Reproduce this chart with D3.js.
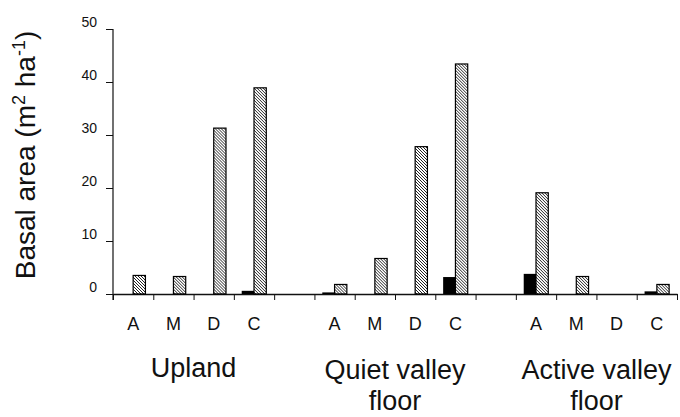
<!DOCTYPE html>
<html>
<head>
<meta charset="utf-8">
<script src="https://cdn.jsdelivr.net/npm/d3@7"></script>
<style>
  body { margin: 0; background: #fff; }
  text { font-family: "Liberation Sans", Arial, sans-serif; fill: #111; }
</style>
</head>
<body>
<div id="chart"></div>
<script>
// data
const siteLabels = [['Upland'], ['Quiet valley', 'floor'], ['Active valley', 'floor']];
const classes = ['A', 'M', 'D', 'C'];
const series = ['solid', 'hatched'];
const solidValues = [[0, 0, 0, 0.6], [0.3, 0, 0, 3.2], [3.8, 0, 0, 0.5]];
const hatchedValues = [[3.5, 3.3, 31.3, 38.9], [1.8, 6.7, 27.8, 43.4], [19.1, 3.3, 0, 1.8]];
const yTicks = [0, 10, 20, 30, 40, 50];

const width = 680, height = 417;
const margin = { top: 29, right: 3, bottom: 123, left: 113 };
const innerW = width - margin.left - margin.right;
const innerH = height - margin.top - margin.bottom;

// one slot per class, plus an empty slot between sites
const slotCount = siteLabels.length * (classes.length + 1) - 1;
const rows = [];
siteLabels.forEach((s, si) => {
    classes.forEach((c, ci) => {
        rows.push({ slot: si * (classes.length + 1) + ci, site: si, cls: c,
                    solid: solidValues[si][ci], hatched: hatchedValues[si][ci] });
    });
});

const svg = d3.select('#chart').append('svg')
    .attr('width', width)
    .attr('height', height);

const defs = svg.append('defs');
defs.append('pattern')
    .attr('id', 'hatch')
    .attr('patternUnits', 'userSpaceOnUse')
    .attr('width', 3)
    .attr('height', 3)
    .append('path')
    .attr('d', 'M-1,-1 L4,4 M-1,2 L1,4 M2,-1 L4,1')
    .attr('stroke', '#222')
    .attr('stroke-width', 1);

const g = svg.append('g')
    .attr('transform', `translate(${margin.left},${margin.top})`);

const x = d3.scaleBand()
    .domain(d3.range(slotCount))
    .range([0, innerW])
    .padding(0);

const x1 = d3.scaleBand()
    .domain(series)
    .range([x.bandwidth() * 0.195, x.bandwidth() * 0.805])
    .padding(0);

const y = d3.scaleLinear()
    .domain([0, 50])
    .range([innerH, 0]);

// Y axis
g.append('g')
    .call(d3.axisLeft(y).tickValues(yTicks).tickSize(7).tickSizeOuter(0).tickPadding(9))
    .call(ax => {
        ax.select('.domain').attr('d', `M0,0V${innerH + 6}`).attr('stroke', '#111').attr('stroke-width', 1.2);
        ax.selectAll('.tick line').attr('stroke', '#111');
        ax.selectAll('.tick text')
            .attr('dy', '-0.2em')
            .style('font-size', '14px');
    });

// X axis: ticks at slot boundaries
const xb = d3.scaleLinear().domain([0, slotCount]).range([0, innerW]);
g.append('g')
    .attr('transform', `translate(0,${innerH})`)
    .call(d3.axisBottom(xb).tickValues(d3.range(slotCount + 1)).tickFormat('').tickSize(6).tickSizeOuter(0))
    .call(ax => {
        ax.select('.domain').attr('stroke', '#111').attr('stroke-width', 1.4);
        ax.selectAll('.tick line').attr('stroke', '#111');
    });

// bars
const slotG = g.selectAll('.slot')
    .data(rows)
    .enter().append('g')
    .attr('class', 'slot')
    .attr('transform', d => `translate(${x(d.slot)},0)`);

slotG.filter(d => d.solid > 0).append('rect')
    .attr('x', x1('solid'))
    .attr('y', d => y(d.solid))
    .attr('width', x1.bandwidth())
    .attr('height', d => innerH - y(d.solid))
    .attr('fill', '#000');

slotG.filter(d => d.hatched > 0).append('rect')
    .attr('x', x1('hatched'))
    .attr('y', d => y(d.hatched))
    .attr('width', x1.bandwidth())
    .attr('height', d => innerH - y(d.hatched))
    .attr('fill', 'url(#hatch)')
    .attr('stroke', '#000')
    .attr('stroke-width', 1.2);

// class letters
slotG.append('text')
    .attr('x', x.bandwidth() / 2)
    .attr('y', innerH + 36)
    .attr('text-anchor', 'middle')
    .style('font-size', '18px')
    .text(d => d.cls);

// site labels
siteLabels.forEach((lines, si) => {
    const first = si * (classes.length + 1);
    const cx = (x(first) + x(first + classes.length - 1) + x.bandwidth()) / 2;
    const t = g.append('text')
        .attr('x', cx)
        .attr('y', innerH + 83 + (si > 0 ? 2 : 0))
        .attr('text-anchor', 'middle')
        .style('font-size', '27px');
    lines.forEach((ln, i) => {
        t.append('tspan').attr('x', cx).attr('dy', i === 0 ? 0 : 31).text(ln);
    });
});

// Y axis title
const yt = svg.append('text')
    .attr('transform', `translate(35,${margin.top + 126}) rotate(-90)`)
    .attr('text-anchor', 'middle')
    .style('font-size', '28px');
yt.append('tspan').text('Basal area (m');
yt.append('tspan').attr('dy', -10).style('font-size', '18px').text('2');
yt.append('tspan').attr('dy', 10).text(' ha');
yt.append('tspan').attr('dy', -10).style('font-size', '18px').text('-1');
yt.append('tspan').attr('dy', 10).text(')');
</script>
</body>
</html>
